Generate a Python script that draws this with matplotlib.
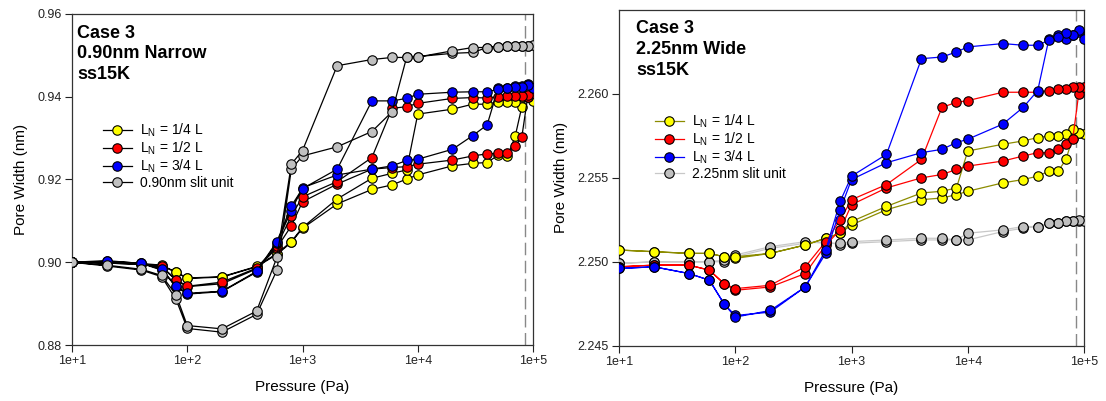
import matplotlib
matplotlib.use("Agg")
import matplotlib.pyplot as plt
from matplotlib.ticker import FixedLocator, NullLocator

plt.rcParams['font.family'] = ['Liberation Sans', 'DejaVu Sans']
plt.rcParams['mathtext.fontset'] = 'custom'
plt.rcParams['mathtext.rm'] = 'Liberation Sans'
plt.rcParams['mathtext.it'] = 'Liberation Sans:italic'

# Pressure steps (Pa) of the adsorption sweep; desorption runs back down
pressure = [10, 20, 40, 60, 80, 100, 200, 400, 600, 800, 1000, 2000, 4000, 6000,
            8000, 10000, 20000, 30000, 40000, 50000, 60000, 70000, 80000, 90000, 100000]

# ---- 0.90 nm narrow pore ----
narrow_q_ads = [0.9000, 0.8999, 0.8996, 0.8991, 0.8976, 0.8961, 0.8964, 0.8989, 0.9019, 0.9048,
                0.9082, 0.9141, 0.9176, 0.9187, 0.9201, 0.9211, 0.9233, 0.9239, 0.9241, 0.9259,
                0.9256, 0.9304, 0.9376, 0.9402, 0.9390]
narrow_q_des = [0.9400, 0.9400, 0.9388, 0.9388, 0.9388, 0.9382, 0.9382, 0.9370, 0.9358, 0.9223,
                0.9215, 0.9203, 0.9153, 0.9084, 0.9050, 0.9021, 0.8990, 0.8965, 0.8962, 0.8976,
                0.8993, 0.8997, 0.8999, 0.9000]
narrow_h_ads = [0.9000, 0.8998, 0.8995, 0.8988, 0.8957, 0.8941, 0.8948, 0.8984, 0.9035, 0.9088,
                0.9146, 0.9189, 0.9225, 0.9229, 0.9231, 0.9237, 0.9247, 0.9257, 0.9262, 0.9263,
                0.9265, 0.9281, 0.9303, 0.9400, 0.9408]
narrow_h_des = [0.9405, 0.9403, 0.9402, 0.9401, 0.9400, 0.9397, 0.9398, 0.9396, 0.9384, 0.9376,
                0.9372, 0.9253, 0.9195, 0.9158, 0.9112, 0.9040, 0.8986, 0.8952, 0.8942, 0.8958,
                0.8990, 0.8995, 0.8998, 0.9000]
narrow_t_ads = [0.9000, 0.9004, 0.8997, 0.8981, 0.8941, 0.8923, 0.8929, 0.8976, 0.9047, 0.9125,
                0.9180, 0.9211, 0.9225, 0.9233, 0.9246, 0.9249, 0.9273, 0.9306, 0.9332, 0.9422,
                0.9422, 0.9426, 0.9426, 0.9430, 0.9422]
narrow_t_des = [0.9428, 0.9424, 0.9424, 0.9420, 0.9418, 0.9412, 0.9412, 0.9411, 0.9406, 0.9396,
                0.9390, 0.9390, 0.9225, 0.9178, 0.9136, 0.9050, 0.8978, 0.8930, 0.8925, 0.8943,
                0.8983, 0.8998, 0.9002, 0.9000]
narrow_s_ads = [0.9000, 0.8991, 0.8981, 0.8965, 0.8910, 0.8840, 0.8831, 0.8874, 0.8981, 0.9225,
                0.9257, 0.9279, 0.9316, 0.9364, 0.9495, 0.9497, 0.9505, 0.9507, 0.9519, 0.9521,
                0.9522, 0.9522, 0.9523, 0.9523, 0.9526]
narrow_s_des = [0.9523, 0.9523, 0.9522, 0.9522, 0.9521, 0.9519, 0.9519, 0.9511, 0.9496, 0.9495,
                0.9495, 0.9490, 0.9475, 0.9270, 0.9237, 0.9012, 0.8882, 0.8839, 0.8847, 0.8921,
                0.8968, 0.8983, 0.8993, 0.9000]

# ---- 2.25 nm wide pore ----
wide_q_ads = [2.2507, 2.2506, 2.2505, 2.2505, 2.2503, 2.2502, 2.2505, 2.2510, 2.2514, 2.2517,
              2.2522, 2.2531, 2.2537, 2.2538, 2.2540, 2.2542, 2.2547, 2.2549, 2.2551, 2.2554,
              2.2554, 2.2561, 2.2574, 2.2577, 2.2576]
wide_q_des = [2.2577, 2.2579, 2.2576, 2.2575, 2.2575, 2.2574, 2.2572, 2.2570, 2.2566, 2.2544,
              2.2542, 2.2541, 2.2533, 2.2524, 2.2517, 2.2514, 2.2510, 2.2505, 2.2503, 2.2503,
              2.2505, 2.2505, 2.2506, 2.2507]
wide_h_ads = [2.2497, 2.2498, 2.2498, 2.2495, 2.2487, 2.2483, 2.2485, 2.2493, 2.2510, 2.2519,
              2.2534, 2.2544, 2.2550, 2.2552, 2.2555, 2.2557, 2.2560, 2.2563, 2.2565, 2.2565,
              2.2567, 2.2570, 2.2573, 2.2600, 2.2604]
wide_h_des = [2.2604, 2.2604, 2.2603, 2.2603, 2.2602, 2.2601, 2.2601, 2.2601, 2.2596, 2.2595,
              2.2592, 2.2561, 2.2546, 2.2537, 2.2525, 2.2512, 2.2497, 2.2486, 2.2484, 2.2487,
              2.2495, 2.2498, 2.2498, 2.2497]
wide_t_ads = [2.2496, 2.2497, 2.2493, 2.2489, 2.2475, 2.2468, 2.2470, 2.2485, 2.2505, 2.2531,
              2.2549, 2.2559, 2.2565, 2.2567, 2.2571, 2.2573, 2.2582, 2.2592, 2.2602, 2.2633,
              2.2635, 2.2633, 2.2635, 2.2637, 2.2633]
wide_t_des = [2.2638, 2.2635, 2.2636, 2.2634, 2.2632, 2.2629, 2.2629, 2.2630, 2.2628, 2.2625,
              2.2622, 2.2621, 2.2564, 2.2551, 2.2536, 2.2507, 2.2485, 2.2471, 2.2467, 2.2475,
              2.2489, 2.2493, 2.2497, 2.2496]
wide_s_ads = [2.2499, 2.2500, 2.2500, 2.2500, 2.2500, 2.2503, 2.2508, 2.2511, 2.2512, 2.2510,
              2.2511, 2.2512, 2.2513, 2.2513, 2.2513, 2.2513, 2.2518, 2.2520, 2.2521, 2.2523,
              2.2523, 2.2524, 2.2524, 2.2524, 2.2524]
wide_s_des = [2.2525, 2.2524, 2.2524, 2.2523, 2.2523, 2.2521, 2.2521, 2.2519, 2.2517, 2.2513,
              2.2514, 2.2514, 2.2513, 2.2512, 2.2511, 2.2511, 2.2512, 2.2509, 2.2504, 2.2501,
              2.2500, 2.2500, 2.2500, 2.2499]

series_labels = ['L$_\\mathrm{N}$ = 1/4 L', 'L$_\\mathrm{N}$ = 1/2 L', 'L$_\\mathrm{N}$ = 3/4 L']
face_colors = ['#ffff00', '#ff0000', '#0000ff', '#c0c0c0']
wide_line_colors = ['#8c8c00', '#ff0000', '#0000ff', '#c8c8c8']

x_ticks = [1e1, 1e2, 1e3, 1e4, 1e5]
x_tick_labels = ['1e+1', '1e+2', '1e+3', '1e+4', '1e+5']
narrow_y_ticks = [0.88, 0.90, 0.92, 0.94, 0.96]
narrow_y_labels = ['0.88', '0.90', '0.92', '0.94', '0.96']
wide_y_ticks = [2.245, 2.250, 2.255, 2.260]
wide_y_labels = ['2.245', '2.250', '2.255', '2.260']
reference_pressure = 8.5e4


def loop(ads, des):
    return pressure + pressure[-2::-1], ads + des


fig = plt.figure(figsize=(11.06, 4.01), dpi=100)
ax1 = fig.add_axes([72 / 1106, 56 / 401, 461 / 1106, 331 / 401])
ax2 = fig.add_axes([619 / 1106, 55.3 / 401, 465 / 1106, 335.7 / 401])

marker_kw = dict(marker='o', markersize=6.8, markeredgecolor='black', markeredgewidth=0.8)


def draw(ax, data, line_colors, zorders):
    handles = []
    for (ads, des), fc, lc, z in zip(data, face_colors, line_colors, zorders):
        xs, ys = loop(ads, des)
        h, = ax.plot(xs, ys, color=lc, linewidth=0.9, markerfacecolor=fc, zorder=z, **marker_kw)
        handles.append(h)
    return handles


narrow_data = [(narrow_q_ads, narrow_q_des), (narrow_h_ads, narrow_h_des),
               (narrow_t_ads, narrow_t_des), (narrow_s_ads, narrow_s_des)]
wide_data = [(wide_q_ads, wide_q_des), (wide_h_ads, wide_h_des),
             (wide_t_ads, wide_t_des), (wide_s_ads, wide_s_des)]

h1 = draw(ax1, narrow_data, ['black'] * 4, [3, 4, 5, 6])
h2 = draw(ax2, wide_data, wide_line_colors, [4, 5, 6, 3])

for ax, yt, yl, ylim in [(ax1, narrow_y_ticks, narrow_y_labels, (0.88, 0.96)),
                         (ax2, wide_y_ticks, wide_y_labels, (2.245, 2.265))]:
    ax.set_xscale('log')
    ax.set_xlim(10, 1e5)
    ax.set_ylim(*ylim)
    ax.xaxis.set_major_locator(FixedLocator(x_ticks))
    ax.xaxis.set_minor_locator(NullLocator())
    ax.set_xticklabels(x_tick_labels)
    ax.yaxis.set_major_locator(FixedLocator(yt))
    ax.yaxis.set_minor_locator(NullLocator())
    ax.set_yticklabels(yl)
    ax.tick_params(direction='out', length=5, width=0.8, labelsize=9, colors='#222222', pad=2.5)
    for sp in ax.spines.values():
        sp.set_color('#333333')
        sp.set_linewidth(0.9)
    ax.axvline(reference_pressure, color='#888888', linewidth=1.0, dashes=(9, 4), zorder=1)
    ax.set_xlabel('Pressure (Pa)', fontsize=11, labelpad=9)
    ax.set_ylabel('Pore Width (nm)', fontsize=11)

ax1.yaxis.set_label_coords(-0.095, 0.5)
ax2.yaxis.set_label_coords(-0.11, 0.5)

ax1.text(0.011, 0.968, 'Case 3\n0.90nm Narrow\nss15K', transform=ax1.transAxes,
         ha='left', va='top', fontsize=13, fontweight='bold', linespacing=1.3)
ax2.text(0.037, 0.969, 'Case 3\n2.25nm Wide\nss15K', transform=ax2.transAxes,
         ha='left', va='top', fontsize=13, fontweight='bold', linespacing=1.3)

leg_kw = dict(frameon=False, fontsize=10, handlelength=2.1, handletextpad=0.55,
              labelspacing=0.05, borderpad=0, borderaxespad=0, loc='upper left')
ax1.legend(h1, series_labels + ['0.90nm slit unit'], bbox_to_anchor=(0.067, 0.675), **leg_kw)
ax2.legend(h2, series_labels + ['2.25nm slit unit'], bbox_to_anchor=(0.077, 0.695), **leg_kw)

fig.savefig('out.png', dpi=100)
